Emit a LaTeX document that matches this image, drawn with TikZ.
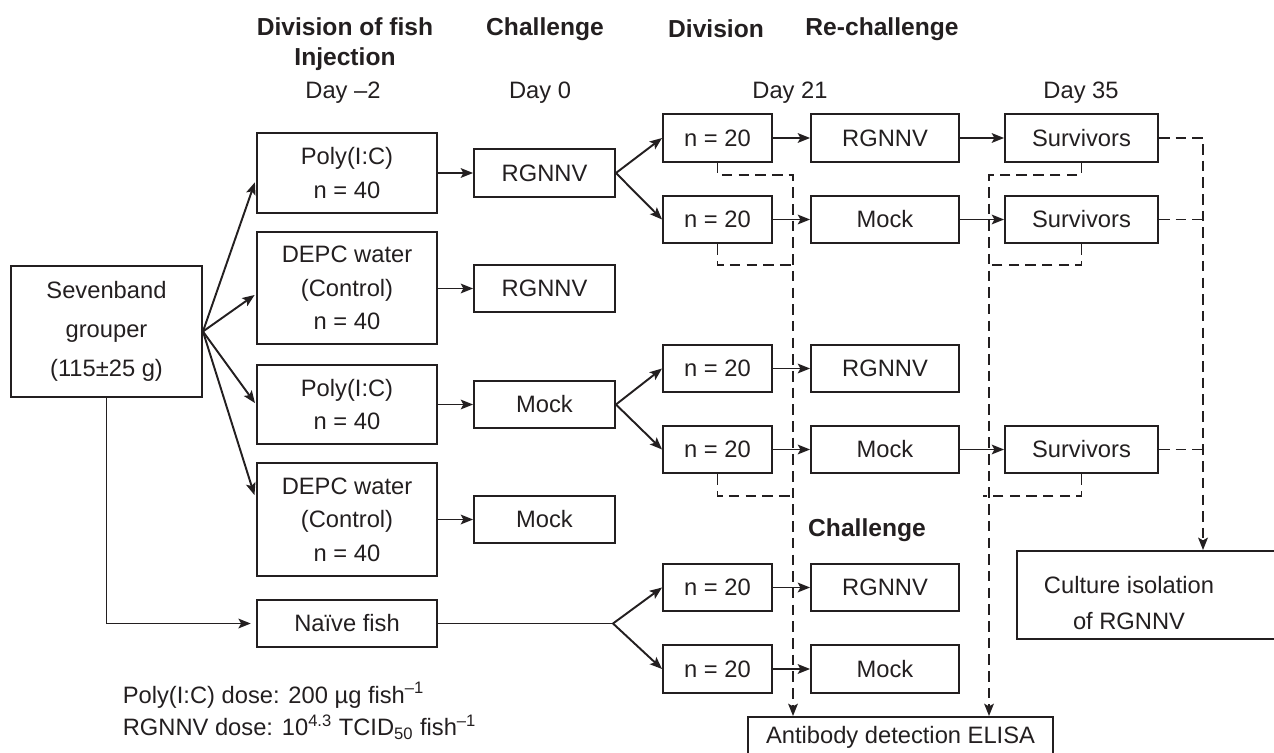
\documentclass[tikz,border=0pt]{standalone}
\usepackage{fontspec}
\setmainfont{Liberation Sans}
\usetikzlibrary{arrows.meta}
\definecolor{ink}{RGB}{35,31,32}

\begin{document}
\begin{tikzpicture}[x=0.02cm, y=-0.02cm, ink, line width=1.1pt,
    every node/.style={font=\fontsize{13.5}{19}\selectfont, text=ink},
    head/.style={font=\bfseries\fontsize{14}{17}\selectfont, align=center},
    box/.style={draw, line width=1.1pt, align=center, inner sep=0pt},
    grp/.style={box, minimum width=3.6cm},
    dayzero/.style={box, minimum width=2.82cm, minimum height=0.95cm},
    nbox/.style={box, minimum width=2.18cm, minimum height=0.95cm},
    treat/.style={box, minimum width=2.96cm, minimum height=0.95cm},
    surv/.style={box, minimum width=3.06cm, minimum height=0.95cm},
    arr/.style={-{Stealth[length=7pt,width=5.5pt,inset=1.5pt]}},
    dsh/.style={dash pattern=on 6pt off 3.5pt}]
  \useasboundingbox (0,0) rectangle (1274,753);

  % headings
  \node[head] (hdiv) at (345,44) {Division of fish\\Injection};
  \node[head] (hchal) at (545,29) {Challenge};
  \node[head] (hdiv2) at (716,29) {Division};
  \node[head] (hrechal) at (882,29) {Re-challenge};
  \node[head] (hchal2) at (867,530) {Challenge};
  \node (dm2) at (343,93) {Day --2};
  \node (d0) at (540,93) {Day 0};
  \node (d21) at (790,93) {Day 21};
  \node (d35) at (1081,93) {Day 35};

  \node[box, minimum width=3.82cm, minimum height=2.62cm] (seven) at (106.5,331.5) {Sevenband\\[3pt]grouper\\[3pt](115±25 g)};

  \node[grp, minimum height=1.6cm] (poly1) at (347,173) {Poly(I:C)\\n = 40};
  \node[grp, minimum height=2.24cm] (depc1) at (347,288) {DEPC water\\(Control)\\n = 40};
  \node[grp, minimum height=1.58cm] (poly2) at (347,404.5) {Poly(I:C)\\n = 40};
  \node[grp, minimum height=2.26cm] (depc2) at (347,519.5) {DEPC water\\(Control)\\n = 40};
  \node[grp, minimum height=0.94cm] (naive) at (347,623.5) {Naïve fish};

  \node[dayzero] (rg1) at (544.5,173) {RGNNV};
  \node[dayzero] (rg2) at (544.5,288.5) {RGNNV};
  \node[dayzero] (mock1) at (544.5,404.5) {Mock};
  \node[dayzero] (mock2) at (544.5,519.5) {Mock};

  \node[nbox] (nA) at (717.5,138) {n = 20};
  \node[nbox] (nB) at (717.5,219.5) {n = 20};
  \node[nbox] (nC) at (717.5,368.5) {n = 20};
  \node[nbox] (nD) at (717.5,449.5) {n = 20};
  \node[nbox] (nE) at (717.5,587.5) {n = 20};
  \node[nbox] (nF) at (717.5,669) {n = 20};

  \node[treat] (rgA) at (885,138) {RGNNV};
  \node[treat] (mockB) at (885,219.5) {Mock};
  \node[treat] (rgC) at (885,368.5) {RGNNV};
  \node[treat] (mockD) at (885,449.5) {Mock};
  \node[treat] (rgE) at (885,587.5) {RGNNV};
  \node[treat] (mockF) at (885,669) {Mock};

  \node[surv] (svA) at (1081.5,138) {Survivors};
  \node[surv] (svB) at (1081.5,219.5) {Survivors};
  \node[surv] (svD) at (1081.5,449.5) {Survivors};

  \node[box, minimum width=5.5cm, minimum height=1.76cm, anchor=north west] (culture) at (1016,550) {};
  \node[align=center, font=\fontsize{13.5}{20}\selectfont] (culturetxt) at (1129,603) {Culture isolation\\of RGNNV};
  \node[box, minimum width=6.1cm, minimum height=0.8cm] (elisa) at (900.5,737) {Antibody detection ELISA};

  \node[anchor=west, align=left, font=\fontsize{13.5}{18.5}\selectfont] (dose) at (116,711)
    {Poly(I:C) dose: 200 µg fish\textsuperscript{--1}\\
     RGNNV dose: 10\textsuperscript{4.3} TCID\textsubscript{50} fish\textsuperscript{--1}};

  % injection
  \draw[arr, shorten >=2pt] (seven.east) -- ([yshift=-3.4pt]poly1.west);
  \draw[arr, shorten >=1pt] (seven.east) -- ([yshift=-3.4pt]depc1.west);
  \draw[arr, shorten >=1pt] (seven.east) -- (poly2.west);
  \draw[arr, shorten >=3pt] (seven.east) -- ([yshift=11pt]depc2.west);
  \draw[arr, shorten >=3pt] (seven.south) |- (naive.west);

  % challenge
  \draw[arr] (poly1) -- (rg1);
  \draw[arr] (depc1.east |- rg2) -- (rg2);
  \draw[arr] (poly2) -- (mock1);
  \draw[arr] (depc2) -- (mock2);

  % division
  \draw[arr] (rg1.east) -- (nA.west);
  \draw[arr] (rg1.east) -- (nB.west);
  \draw[arr] (mock1.east) -- (nC.west);
  \draw[arr] (mock1.east) -- (nD.west);
  \coordinate (nfork) at (613,623.5);
  \draw (naive.east) -- (nfork);
  \draw[arr] (nfork) -- (nE.west);
  \draw[arr] (nfork) -- (nF.west);

  % re-challenge
  \draw[arr] (nA) -- (rgA);
  \draw[arr] (rgA) -- (svA);
  \draw[arr] (nB) -- (mockB);
  \draw[arr] (mockB) -- (svB);
  \draw[arr] (nC) -- (rgC);
  \draw[arr] (nD) -- (mockD);
  \draw[arr] (mockD) -- (svD);
  \draw[arr] (nE) -- (rgE);
  \draw[arr] (nF) -- (mockF);

  % sampling
  \coordinate (busL) at (793,175);
  \coordinate (busR) at (989,175);
  \coordinate (busC) at (1203,138);
  \draw[dsh, arr] (nA.south) |- (busL) -- (busL |- elisa.north);
  \draw[dsh] (nB.south) -- ++(0,21) -- ++(76,0);
  \draw[dsh] (nD.south) -- ++(0,22) -- ++(76,0);
  \draw[dsh, arr] (svA.south) |- (busR) -- (busR |- elisa.north);
  \draw[dsh] (svB.south) -- ++(0,21) -- ++(-93,0);
  \draw[dsh] (svD.south) -- ++(0,22) -- ++(-99,0);
  \draw[dsh, arr] (svA.east) -- (busC) -- (busC |- culture.north);
  \draw[dsh] (svB.east) -- (svB.east -| busC);
  \draw[dsh] (svD.east) -- (svD.east -| busC);
\end{tikzpicture}
\end{document}
